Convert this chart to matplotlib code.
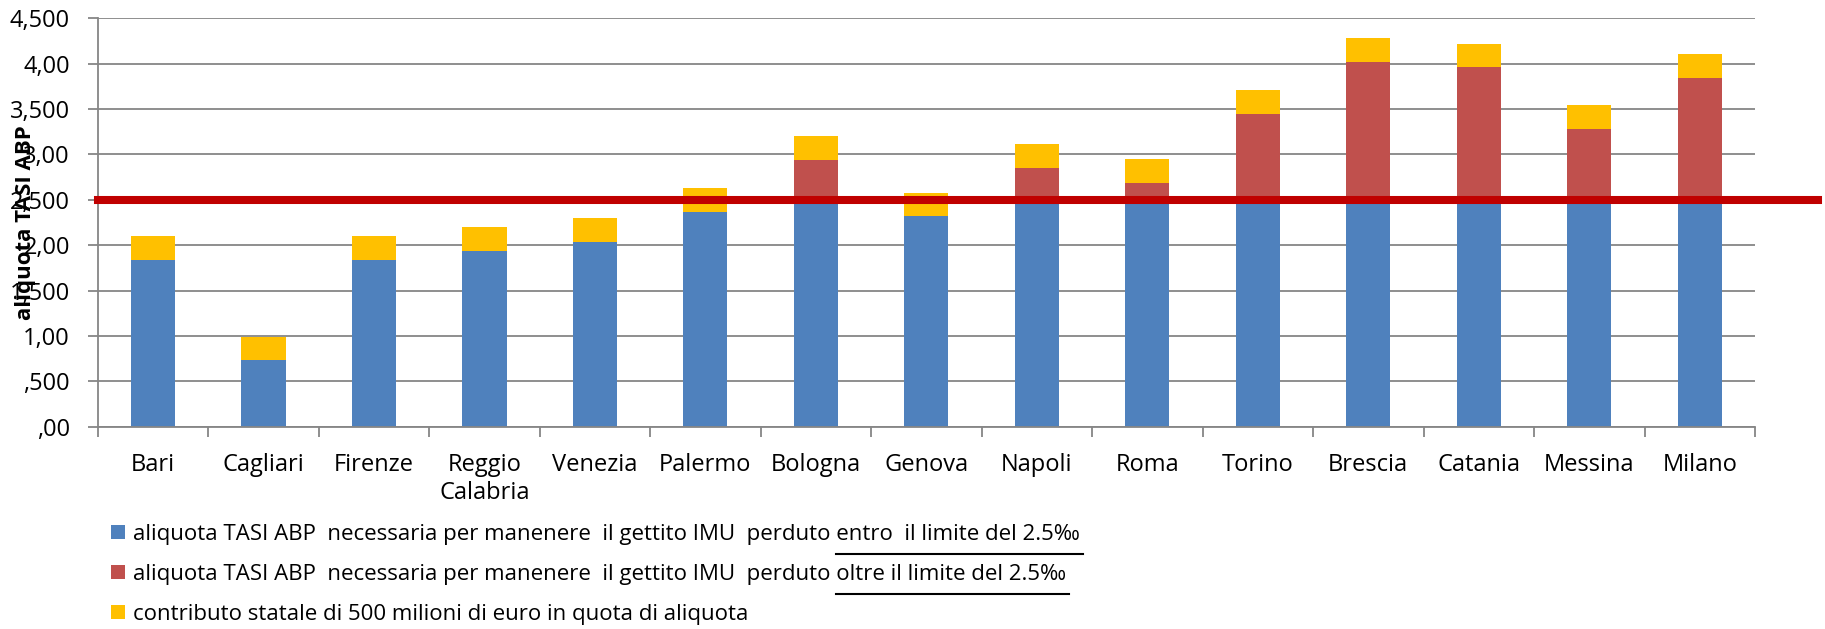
import numpy as np
import matplotlib
matplotlib.use("Agg")
import matplotlib.pyplot as plt
from matplotlib.patches import Patch
from matplotlib.lines import Line2D
from matplotlib import font_manager

# data
cities = ["Bari", "Cagliari", "Firenze", "Reggio\nCalabria", "Venezia", "Palermo", "Bologna",
          "Genova", "Napoli", "Roma", "Torino", "Brescia", "Catania", "Messina", "Milano"]
entro = [1.84, 0.735, 1.84, 1.935, 2.035, 2.37, 2.5, 2.32, 2.5, 2.5, 2.5, 2.5, 2.5, 2.5, 2.5]
oltre = [0, 0, 0, 0, 0, 0, 0.44, 0, 0.35, 0.19, 0.95, 1.52, 1.46, 0.78, 1.34]
contributo = [0.26, 0.257, 0.26, 0.26, 0.265, 0.26, 0.265, 0.257, 0.265, 0.257, 0.26, 0.26, 0.257, 0.265, 0.265]
limite = 2.5

y_ticks = [0, 0.5, 1, 1.5, 2, 2.5, 3, 3.5, 4, 4.5]
y_ticklabels = [",00", ",500", "1,00", "1,500", "2,00", "2,500", "3,00", "3,500", "4,00", "4,500"]

legend_labels = [
    "aliquota TASI ABP  necessaria per manenere  il gettito IMU  perduto entro  il limite del 2.5‰",
    "aliquota TASI ABP  necessaria per manenere  il gettito IMU  perduto oltre il limite del 2.5‰",
    "contributo statale di 500 milioni di euro in quota di aliquota",
]
underlined = ["entro  il limite del 2.5‰", "oltre il limite del 2.5‰", None]

BLUE = "#4F81BD"
RED = "#C0504D"
YELLOW = "#FFC000"
LINE_RED = "#C00000"
GRID = "#868686"

available = {f.name for f in font_manager.fontManager.ttflist}
font = "Open Sans" if "Open Sans" in available else "DejaVu Sans"
plt.rcParams["font.family"] = [font, "DejaVu Sans"]

fig = plt.figure(figsize=(18.25, 6.29), dpi=100)
ax = fig.add_axes([97.7 / 1825, 1 - 426.7 / 629, (1755 - 97.7) / 1825, (426.7 - 18.3) / 629])

x = np.arange(len(cities))
entro = np.array(entro)
oltre = np.array(oltre)
contributo = np.array(contributo)

w = 0.4
ax.bar(x, entro, w, color=BLUE, zorder=2)
ax.bar(x, oltre, w, bottom=entro, color=RED, zorder=2)
ax.bar(x, contributo, w, bottom=entro + oltre, color=YELLOW, zorder=2)

# limit line, runs past the right edge of the plot like in the original
ax.axhline(limite, xmin=0, xmax=(1817.7 - 97.7) / (1755 - 97.7), color=LINE_RED,
           linewidth=5.8, clip_on=False, zorder=3)

ax.set_xlim(-0.5, len(cities) - 0.5)
ax.set_ylim(0, 4.5)
ax.set_yticks(y_ticks)
ax.set_yticklabels(y_ticklabels, fontsize=17)
ax.yaxis.grid(True, color=GRID, linewidth=1.3, zorder=0)
ax.set_axisbelow(True)

# ticks between categories, labels at the centres
ax.set_xticks(np.arange(-0.5, len(cities), 1.0))
ax.set_xticklabels([])
ax.set_xticks(x, minor=True)
ax.set_xticklabels(cities, minor=True, fontsize=17)
ax.tick_params(axis="x", which="minor", length=0, pad=19)
ax.tick_params(axis="x", which="major", length=7, width=1.3, color=GRID, direction="out")
ax.tick_params(axis="y", length=7, width=1.3, color=GRID, direction="out", pad=13)

for s in ["top", "right"]:
    ax.spines[s].set_visible(False)
for s in ["left", "bottom"]:
    ax.spines[s].set_color(GRID)
    ax.spines[s].set_linewidth(1.3)

ax.set_ylabel("aliquota TASI ABP", fontsize=16, fontweight="bold", va="center")
ax.yaxis.set_label_coords(-0.0435, 0.5)

handles = [Patch(facecolor=c, edgecolor="none") for c in (BLUE, RED, YELLOW)]
leg = fig.legend(handles, legend_labels, loc="upper left",
                 bbox_to_anchor=(110.7 / 1825, 1 - 524 / 629), frameon=False,
                 fontsize=16, handlelength=0.63, handleheight=0.59, handletextpad=0.36,
                 labelspacing=0.86, borderaxespad=0, borderpad=0)

# underline the "entro"/"oltre" part of the first two entries
fig.canvas.draw()
renderer = fig.canvas.get_renderer()
for txt, part in zip(leg.get_texts(), underlined):
    if part is None:
        continue
    bb = txt.get_window_extent(renderer)
    tmp = fig.text(0, 0, part, fontsize=16)
    pw = tmp.get_window_extent(renderer).width
    tmp.remove()
    y = bb.y0 - 9
    fig.add_artist(Line2D([(bb.x1 - pw) / 1825, (bb.x1 + 3) / 1825], [y / 629, y / 629],
                          color="black", linewidth=1.5, transform=fig.transFigure))

fig.savefig("out.png", dpi=100)
